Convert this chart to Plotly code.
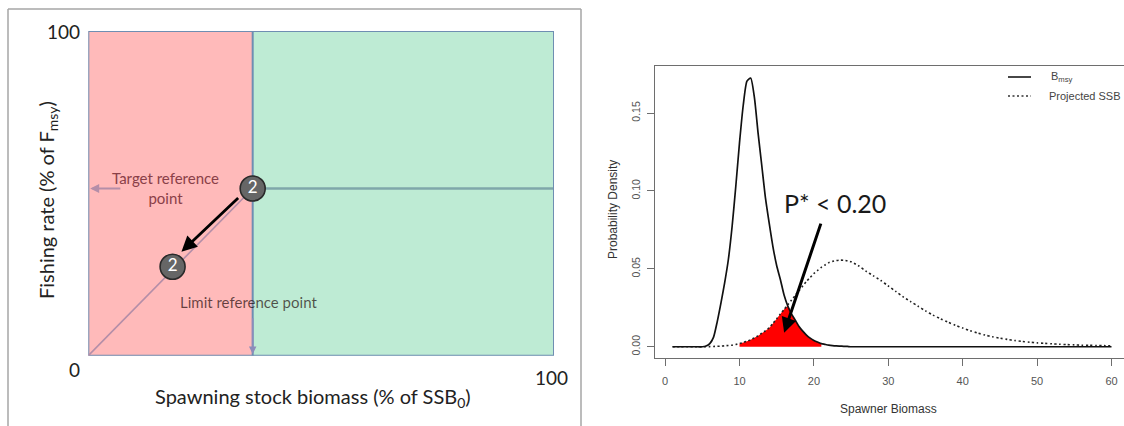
import plotly.graph_objects as go

# ---------------- data: left panel (harvest control diagram) ----------------
axis_max = [0, 100]                      # axis end labels
limit_ssb_pct = 35.3                     # limit reference point (% of SSB0)
target_f_pct = 51.5                      # target reference point (% of Fmsy)
status_ssb_pct = [35.3, 18.1]            # stock status points: SSB
status_f_pct = [51.5, 27.4]              # stock status points: F
status_labels = ["2", "2"]

# ---------------- data: right panel (densities) ----------------
biomass = [1, 2, 3, 4, 5,
           5.5, 6, 6.5, 7, 7.5, 8, 8.5, 9, 9.5, 10,
           10.5, 11, 11.5, 12, 12.5, 13, 13.5, 14, 14.5, 15,
           15.5, 16, 16.5, 17, 17.5, 18, 18.5, 19, 19.5, 20,
           20.5, 21, 21.5, 22, 22.5, 23, 23.5, 24, 24.5, 25,
           26, 27, 28, 29, 30, 31, 32, 33, 34, 35, 36, 37, 38, 39, 40,
           41, 42, 43, 44, 45, 46, 47, 48, 49, 50, 51, 52, 53, 54, 55,
           56, 57, 58, 59, 60]
bmsy_density = [0, 0, 0, 0, 0,
                0.0005, 0.002, 0.006, 0.016, 0.028, 0.041, 0.056, 0.077, 0.103, 0.131,
                0.155, 0.1705, 0.1725, 0.160, 0.137, 0.116, 0.095, 0.079, 0.064, 0.052,
                0.043, 0.033, 0.026, 0.021, 0.017, 0.013, 0.010, 0.0075, 0.0055, 0.004,
                0.003, 0.002, 0.0015, 0.001, 0.0007, 0.0005, 0.0004, 0.0003, 0.0002, 0,
                0, 0, 0, 0, 0, 0, 0, 0, 0, 0, 0, 0, 0, 0, 0,
                0, 0, 0, 0, 0, 0, 0, 0, 0, 0, 0, 0, 0, 0, 0,
                0, 0, 0, 0, 0]
ssb_density = [0, 0, 0, 0, 0,
               0, 0.0001, 0.0002, 0.0003, 0.0004, 0.0006, 0.0008, 0.001, 0.0015, 0.002,
               0.0027, 0.0035, 0.0045, 0.0057, 0.007, 0.0087, 0.0103, 0.0122, 0.015, 0.018,
               0.021, 0.024, 0.027, 0.030, 0.033, 0.036, 0.039, 0.042, 0.0445, 0.047,
               0.049, 0.051, 0.0525, 0.054, 0.0548, 0.0553, 0.0556, 0.0555, 0.0551, 0.0545,
               0.052, 0.0485, 0.0455, 0.0425, 0.039, 0.0355, 0.032, 0.029, 0.026, 0.023,
               0.0203, 0.018, 0.0158, 0.0138, 0.012,
               0.0103, 0.0088, 0.0075, 0.0064, 0.0055, 0.0047, 0.004, 0.0034, 0.0029, 0.0025,
               0.0022, 0.0019, 0.0016, 0.0014, 0.0012,
               0.001, 0.0009, 0.0008, 0.0007, 0.0006]
overlap_range = [10, 21]
x_ticks = [0, 10, 20, 30, 40, 50, 60]
y_ticks = [0.0, 0.05, 0.10, 0.15]
y_tick_text = ["0.00", "0.05", "0.10", "0.15"]
pstar_text = "P* < 0.20"

W, H = 1124, 426
def px(x):
    return x / W
def py(y):
    return 1 - y / H

fig = go.Figure()

# ---------------- left panel ----------------
diag_col = "#B48EA8"
fig.add_trace(go.Scatter(x=[0, status_ssb_pct[0]], y=[0, status_f_pct[0]], mode="lines",
                         line=dict(color=diag_col, width=1.6), xaxis="x", yaxis="y",
                         hoverinfo="skip", showlegend=False))
fig.add_trace(go.Scatter(x=status_ssb_pct, y=status_f_pct, mode="markers+text",
                         text=status_labels, textposition="middle center",
                         textfont=dict(family="Lato", size=17, color="white"),
                         marker=dict(size=25, color="#666666", line=dict(color="#2a2a2a", width=1.6)),
                         xaxis="x", yaxis="y", showlegend=False, hoverinfo="skip"))

shapes = []
# outer frame of left figure
shapes.append(dict(type="line", xref="paper", yref="paper", x0=px(8), x1=px(581), y0=py(9), y1=py(9),
                   line=dict(color="#A6A6A6", width=1.5)))
shapes.append(dict(type="line", xref="paper", yref="paper", x0=px(8), x1=px(8), y0=py(9), y1=0,
                   line=dict(color="#A6A6A6", width=1.5)))
shapes.append(dict(type="line", xref="paper", yref="paper", x0=px(581), x1=px(581), y0=py(9), y1=0,
                   line=dict(color="#A6A6A6", width=1.5)))
shapes.append(dict(type="rect", xref="x", yref="y", x0=0, x1=limit_ssb_pct, y0=0, y1=100,
                   fillcolor="#FFBABA", line=dict(width=0), layer="below"))
shapes.append(dict(type="rect", xref="x", yref="y", x0=limit_ssb_pct, x1=100, y0=0, y1=100,
                   fillcolor="#BEEBD4", line=dict(width=0), layer="below"))
shapes.append(dict(type="line", xref="x", yref="y", x0=limit_ssb_pct, x1=100, y0=target_f_pct, y1=target_f_pct,
                   line=dict(color="#7FA7AA", width=2.5), layer="below"))
shapes.append(dict(type="rect", xref="x", yref="y", x0=0, x1=100, y0=0, y1=100,
                   fillcolor="rgba(0,0,0,0)", line=dict(color="#6F8EB2", width=2), layer="below"))
shapes.append(dict(type="line", xref="x", yref="y", x0=limit_ssb_pct, x1=limit_ssb_pct, y0=0, y1=100,
                   line=dict(color="#6F8EB2", width=2), layer="below"))

annotations = []
lf = "Lato"
annotations.append(dict(xref="x", yref="y", x=0, y=axis_max[1], text=str(axis_max[1]), showarrow=False,
                        xanchor="right", yanchor="middle", xshift=-6,
                        font=dict(family=lf, size=19, color="#222")))
annotations.append(dict(xref="x", yref="y", x=0, y=0, text=str(axis_max[0]), showarrow=False,
                        xanchor="right", yanchor="top", xshift=-6, yshift=0,
                        font=dict(family=lf, size=19, color="#222")))
annotations.append(dict(xref="x", yref="y", x=100, y=0, text=str(axis_max[1]), showarrow=False,
                        xanchor="center", yanchor="top", yshift=-8, xshift=-3,
                        font=dict(family=lf, size=19, color="#222")))
annotations.append(dict(xref="paper", yref="paper", x=px(313), y=py(397),
                        text="Spawning stock biomass (% of SSB<sub>0</sub>)", showarrow=False,
                        xanchor="center", yanchor="middle", font=dict(family=lf, size=20, color="#222")))
annotations.append(dict(xref="paper", yref="paper", x=px(47), y=py(200),
                        text="Fishing rate (% of F<sub>msy</sub>)", showarrow=False, textangle=-90,
                        xanchor="center", yanchor="middle", font=dict(family=lf, size=20, color="#222")))
annotations.append(dict(xref="x", yref="y", x=16.5, y=target_f_pct, text="Target reference<br>point",
                        showarrow=False, xanchor="center", yanchor="middle",
                        font=dict(family=lf, size=15, color="#8A4048")))
annotations.append(dict(xref="x", yref="y", x=34.5, y=16.5, text="Limit reference point",
                        showarrow=False, xanchor="center", yanchor="middle",
                        font=dict(family=lf, size=15, color="rgba(20,0,0,0.66)")))
# small pointer arrows
annotations.append(dict(xref="x", yref="y", axref="x", ayref="y", x=0.4, y=target_f_pct,
                        ax=7.2, ay=target_f_pct, text="", showarrow=True, arrowhead=2, arrowsize=1,
                        arrowwidth=1.8, arrowcolor=diag_col))
annotations.append(dict(xref="x", yref="y", axref="x", ayref="y", x=limit_ssb_pct, y=0.5,
                        ax=limit_ssb_pct, ay=12, text="", showarrow=True, arrowhead=2, arrowsize=1,
                        arrowwidth=1.5, arrowcolor="#8C8CBA"))
# movement arrow between status points
annotations.append(dict(xref="x", yref="y", axref="x", ayref="y", x=20.0, y=32.0,
                        ax=32.5, ay=49.0, text="", showarrow=True, arrowhead=2, arrowsize=1.1,
                        arrowwidth=2.8, arrowcolor="black"))

# ---------------- right panel ----------------
fill_x = [b for b in biomass if overlap_range[0] <= b <= overlap_range[1]]
fill_y = [min(a, s) for b, a, s in zip(biomass, bmsy_density, ssb_density)
          if overlap_range[0] <= b <= overlap_range[1]]
fig.add_trace(go.Scatter(x=fill_x, y=fill_y, mode="lines", fill="tozeroy", fillcolor="#FF0000",
                         line=dict(width=0, color="#FF0000", shape="spline"), xaxis="x2", yaxis="y2",
                         showlegend=False, hoverinfo="skip"))
fig.add_trace(go.Scatter(x=biomass, y=ssb_density, mode="lines", name="Projected SSB",
                         line=dict(color="#222", width=1.6, dash="2px,2.5px", shape="spline", smoothing=0.6),
                         xaxis="x2", yaxis="y2", showlegend=False, hoverinfo="skip"))
fig.add_trace(go.Scatter(x=biomass, y=bmsy_density, mode="lines", name="Bmsy",
                         line=dict(color="#111", width=1.7, shape="spline", smoothing=0.6),
                         xaxis="x2", yaxis="y2", showlegend=False, hoverinfo="skip"))

af = "Liberation Sans"
annotations.append(dict(xref="x2", yref="y2", x=22.9, y=0.092, text=pstar_text, showarrow=False,
                        xanchor="center", yanchor="middle", font=dict(family=lf, size=25, color="#1a1a1a")))
annotations.append(dict(xref="x2", yref="y2", axref="x2", ayref="y2", x=16.0, y=0.009,
                        ax=21.0, ay=0.080, text="", showarrow=True, arrowhead=2, arrowsize=1,
                        arrowwidth=3, arrowcolor="black"))
annotations.append(dict(xref="paper", yref="paper", x=px(888), y=py(409), text="Spawner Biomass",
                        showarrow=False, xanchor="center", yanchor="middle",
                        font=dict(family=af, size=12, color="#333")))
annotations.append(dict(xref="paper", yref="paper", x=px(613), y=py(210), text="Probability Density",
                        showarrow=False, textangle=-90, xanchor="center", yanchor="middle",
                        font=dict(family=af, size=12, color="#333")))
# legend (R style)
shapes.append(dict(type="line", xref="paper", yref="paper", x0=px(1008), x1=px(1031), y0=py(77), y1=py(77),
                   line=dict(color="#333", width=1.8)))
shapes.append(dict(type="line", xref="paper", yref="paper", x0=px(1008), x1=px(1031), y0=py(96), y1=py(96),
                   line=dict(color="#333", width=1.6, dash="2px,2.5px")))
annotations.append(dict(xref="paper", yref="paper", x=px(1062), y=py(77), text="B<sub>msy</sub>",
                        showarrow=False, xanchor="center", yanchor="middle",
                        font=dict(family=af, size=11, color="#444")))
annotations.append(dict(xref="paper", yref="paper", x=px(1047), y=py(96), text="Projected SSB",
                        showarrow=False, xanchor="left", yanchor="middle",
                        font=dict(family=af, size=11, color="#444")))

fig.update_layout(
    width=W, height=H, margin=dict(l=0, r=0, t=0, b=0),
    paper_bgcolor="white", plot_bgcolor="rgba(0,0,0,0)",
    xaxis=dict(domain=[px(88.3), px(554)], range=[0, 100], visible=False, fixedrange=True),
    yaxis=dict(domain=[py(355.7), py(31)], range=[0, 100], visible=False, fixedrange=True),
    xaxis2=dict(domain=[px(655), 1], range=[-1.36, 61.68], anchor="y2",
                showline=True, mirror=True, linecolor="#6e6e6e", linewidth=1.3,
                ticks="outside", ticklen=7, tickcolor="#6e6e6e", tickwidth=1.2,
                tickvals=x_ticks, tickfont=dict(family=af, size=11, color="#555"),
                ticklabelstandoff=6, showgrid=False, zeroline=False),
    yaxis2=dict(domain=[py(357.5), py(66.3)], range=[-0.0069, 0.180], anchor="x2",
                showline=True, linecolor="#6e6e6e", linewidth=1.3,
                ticks="outside", ticklen=7, tickcolor="#6e6e6e", tickwidth=1.2,
                tickvals=y_ticks, ticktext=y_tick_text, tickangle=-90,
                tickfont=dict(family=af, size=10.5, color="#555"),
                ticklabelstandoff=3, showgrid=False, zeroline=False),
    shapes=shapes, annotations=annotations, showlegend=False,
)

fig.write_html("out.html", config={"displayModeBar": False},
               post_script="document.body.style.margin='0px';document.body.style.overflow='hidden';")
